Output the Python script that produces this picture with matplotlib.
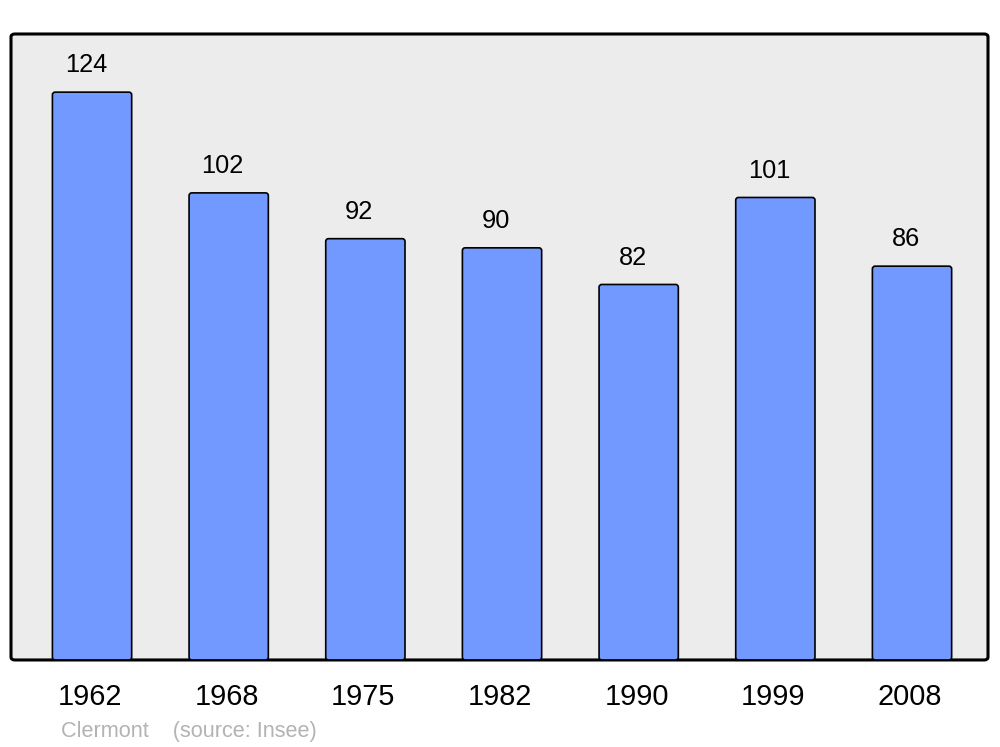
import matplotlib.pyplot as plt
import matplotlib.transforms as mtransforms
from matplotlib.patches import FancyBboxPatch

years = ["1962", "1968", "1975", "1982", "1990", "1999", "2008"]
population = [124, 102, 92, 90, 82, 101, 86]

plt.rcParams['font.family'] = ['Liberation Sans', 'DejaVu Sans']

fig = plt.figure(figsize=(10, 7.47), dpi=100)
ax = fig.add_axes([0.011, 0.1165, 0.977, 0.838])
ax.set_facecolor("none")

# rounded background frame
frame = FancyBboxPatch((0, 0), 1, 1, boxstyle="round,pad=0,rounding_size=0.004",
                       transform=ax.transAxes, facecolor="#ececec", edgecolor="black",
                       linewidth=2.2, zorder=0, clip_on=False, mutation_aspect=1.17)
ax.add_patch(frame)

x = list(range(len(years)))
bars = ax.bar(x, population, width=0.58, color="#7299ff", edgecolor="black", linewidth=1.2)

# swap plain rectangles for slightly rounded ones
for b in bars:
    b.set_visible(False)
    rb = FancyBboxPatch((b.get_x(), b.get_y()), b.get_width(), b.get_height(),
                        boxstyle="round,pad=0,rounding_size=0.02", mutation_aspect=30,
                        facecolor="#7299ff", edgecolor="black", linewidth=1.2, zorder=2)
    ax.add_patch(rb)

for xi, v in zip(x, population):
    ax.annotate(str(v), (xi, v), xytext=(-4.5, 14.3), textcoords="offset points",
                ha="center", va="baseline", fontsize=18.3)

ax.set_xlim(-0.593, 6.556)
ax.set_ylim(0, 136.7)
ax.set_xticks(x)
ax.set_xticklabels(years, fontsize=20.8)
ax.set_yticks([])
ax.tick_params(axis="x", length=0, pad=16.5)
shift = mtransforms.ScaledTranslation(-2 / 100, 0, fig.dpi_scale_trans)
for lbl in ax.get_xticklabels():
    lbl.set_transform(lbl.get_transform() + shift)
for s in ax.spines.values():
    s.set_visible(False)

fig.text(0.061, 1 - 732 / 747, "Clermont    (source: Insee)", color="#b3b3b3",
         fontsize=15.6, ha="left", va="center")

plt.savefig("out.png", dpi=100)
